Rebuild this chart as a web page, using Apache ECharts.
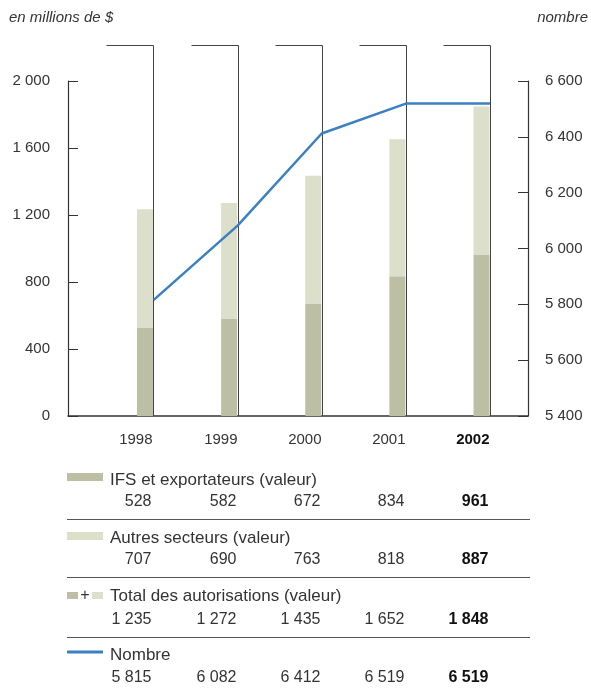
<!DOCTYPE html>
<html><head><meta charset="utf-8">
<script src="https://cdn.jsdelivr.net/npm/echarts@6/dist/echarts.min.js"></script>
<style>html,body{margin:0;padding:0;background:#fff}#c{width:591px;height:690px}</style>
</head><body><div id="c"></div>
<script>
const years = [1998, 1999, 2000, 2001, 2002];
const ifs = [528, 582, 672, 834, 961];
const autres = [707, 690, 763, 818, 887];
const total = [1235, 1272, 1435, 1652, 1848];
const nombre = [5815, 6082, 6412, 6519, 6519];
const leftTicks = [0, 400, 800, 1200, 1600, 2000];
const rightTicks = [5400, 5600, 5800, 6000, 6200, 6400, 6600];
const rowTitles = ['IFS et exportateurs (valeur)', 'Autres secteurs (valeur)', 'Total des autorisations (valeur)', 'Nombre'];

const FONT = '"Liberation Sans", Arial, sans-serif';
const TXT = '#333';
const DARK = '#bdbfa4';
const LIGHT = '#dcdfca';
const BLUE = '#3a80c2';
const fmt = v => String(v).replace(/\B(?=(\d{3})+(?!\d))/g, ' ');

const chart = echarts.init(document.getElementById('c'), null, {renderer: 'canvas'});

// value x axis maps a year to its bar's right edge
const edgeMin = 1996.984, edgeMax = 2002.452;

function t(x, y, text, bold, size, align) {
  return {type: 'text', x: x, y: y, style: {text: text, align: align || 'right', verticalAlign: 'middle',
    fill: bold ? '#111' : TXT, fontSize: size, fontWeight: bold ? 'bold' : 'normal', fontFamily: FONT}};
}

const rowY = [[480, 502], [538, 560], [596, 620], [655, 678]];
const sepY = [519.5, 577.5, 637.5];

const graphic = [
  {type: 'text', left: 9, top: 10, style: {text: 'en millions de $', fontSize: 15, fontStyle: 'italic', fill: TXT, fontFamily: FONT}},
  {type: 'text', right: 3, top: 10, style: {text: 'nombre', fontSize: 15, fontStyle: 'italic', fill: TXT, fontFamily: FONT}},
  {type: 'rect', shape: {x: 67, y: 473, width: 36, height: 8}, style: {fill: DARK}},
  {type: 'rect', shape: {x: 67, y: 532, width: 36, height: 8}, style: {fill: LIGHT}},
  {type: 'rect', shape: {x: 67, y: 592, width: 11, height: 7}, style: {fill: DARK}},
  t(85, 595.5, '+', false, 16, 'center'),
  {type: 'rect', shape: {x: 92, y: 592, width: 11, height: 7}, style: {fill: LIGHT}},
  {type: 'line', shape: {x1: 67, y1: 652, x2: 103, y2: 652}, style: {stroke: BLUE, lineWidth: 3}}
];
rowTitles.forEach((s, i) => graphic.push(t(110, rowY[i][0], s, false, 17, 'left')));
sepY.forEach(y => graphic.push({type: 'line', shape: {x1: 67, y1: y, x2: 530, y2: y}, style: {stroke: '#555', lineWidth: 1}}));

const rows = years.map((y, i) => [y, ifs[i], autres[i], total[i], nombre[i]]);
const yCommon = {min: leftTicks[0], max: leftTicks[leftTicks.length - 1], interval: leftTicks[1] - leftTicks[0]};

chart.setOption({
  animation: false,
  grid: [
    {left: 68, right: 63, top: 81, bottom: 274},
    {left: 102.9, right: 67.4, top: 81, bottom: 274}
  ],
  xAxis: [
    {type: 'value', gridIndex: 0, min: edgeMin, max: edgeMax, position: 'bottom',
      axisLine: {show: true, lineStyle: {color: '#333', width: 1.5}}, axisTick: {show: false},
      axisLabel: {show: false}, splitLine: {show: false}},
    {type: 'category', gridIndex: 1, data: years.map(String), show: false}
  ],
  yAxis: [
    Object.assign({type: 'value', gridIndex: 0,
      position: 'left', axisLine: {show: true, lineStyle: {color: '#333', width: 1.2}},
      axisTick: {show: true, inside: true, length: 10, lineStyle: {color: '#333'}},
      axisLabel: {formatter: fmt, color: TXT, fontSize: 15, fontFamily: FONT, margin: 18}, splitLine: {show: false}}, yCommon),
    {type: 'value', gridIndex: 0, min: rightTicks[0], max: rightTicks[rightTicks.length - 1], interval: rightTicks[1] - rightTicks[0],
      position: 'right', axisLine: {show: true, lineStyle: {color: '#333', width: 1.2}},
      axisTick: {show: true, inside: true, length: 10, lineStyle: {color: '#333'}},
      axisLabel: {formatter: fmt, color: TXT, fontSize: 15, fontFamily: FONT, margin: 17}, splitLine: {show: false}},
    Object.assign({type: 'value', gridIndex: 1, show: false, splitLine: {show: false}}, yCommon)
  ],
  graphic: graphic,
  series: [
    {type: 'bar', name: 'IFS', stack: 'a', xAxisIndex: 1, yAxisIndex: 2, barWidth: 16,
      itemStyle: {color: DARK}, data: ifs, z: 2},
    {type: 'bar', name: 'Autres', stack: 'a', xAxisIndex: 1, yAxisIndex: 2, barWidth: 16,
      itemStyle: {color: LIGHT}, data: autres, z: 2},
    {type: 'custom', name: 'frame', xAxisIndex: 0, yAxisIndex: 0, clip: false, z: 3,
      encode: {x: 0, y: 1}, data: rows,
      renderItem: function (params, api) {
        const i = params.dataIndex;
        const yr = api.value(0);
        const p = api.coord([yr, 0]);
        const x = Math.round(p[0]) + 0.5;
        const last = i === years.length - 1;
        const ls = {stroke: '#444', lineWidth: 1};
        return {type: 'group', children: [
          {type: 'line', shape: {x1: x, y1: p[1], x2: x, y2: 45.5}, style: ls},
          {type: 'line', shape: {x1: x - 47, y1: 45.5, x2: x, y2: 45.5}, style: ls},
          t(x - 1, 440, String(yr), last, 15),
          t(x - 2, rowY[0][1], fmt(api.value(1)), last, 16),
          t(x - 2, rowY[1][1], fmt(api.value(2)), last, 16),
          t(x - 2, rowY[2][1], fmt(api.value(3)), last, 16),
          t(x - 2, rowY[3][1], fmt(api.value(4)), last, 16)
        ]};
      }},
    {type: 'line', name: 'Nombre', xAxisIndex: 0, yAxisIndex: 1, showSymbol: false, symbol: 'none', z: 4,
      lineStyle: {color: BLUE, width: 2.5}, data: years.map((y, i) => [y, nombre[i]])}
  ]
});
</script></body></html>
